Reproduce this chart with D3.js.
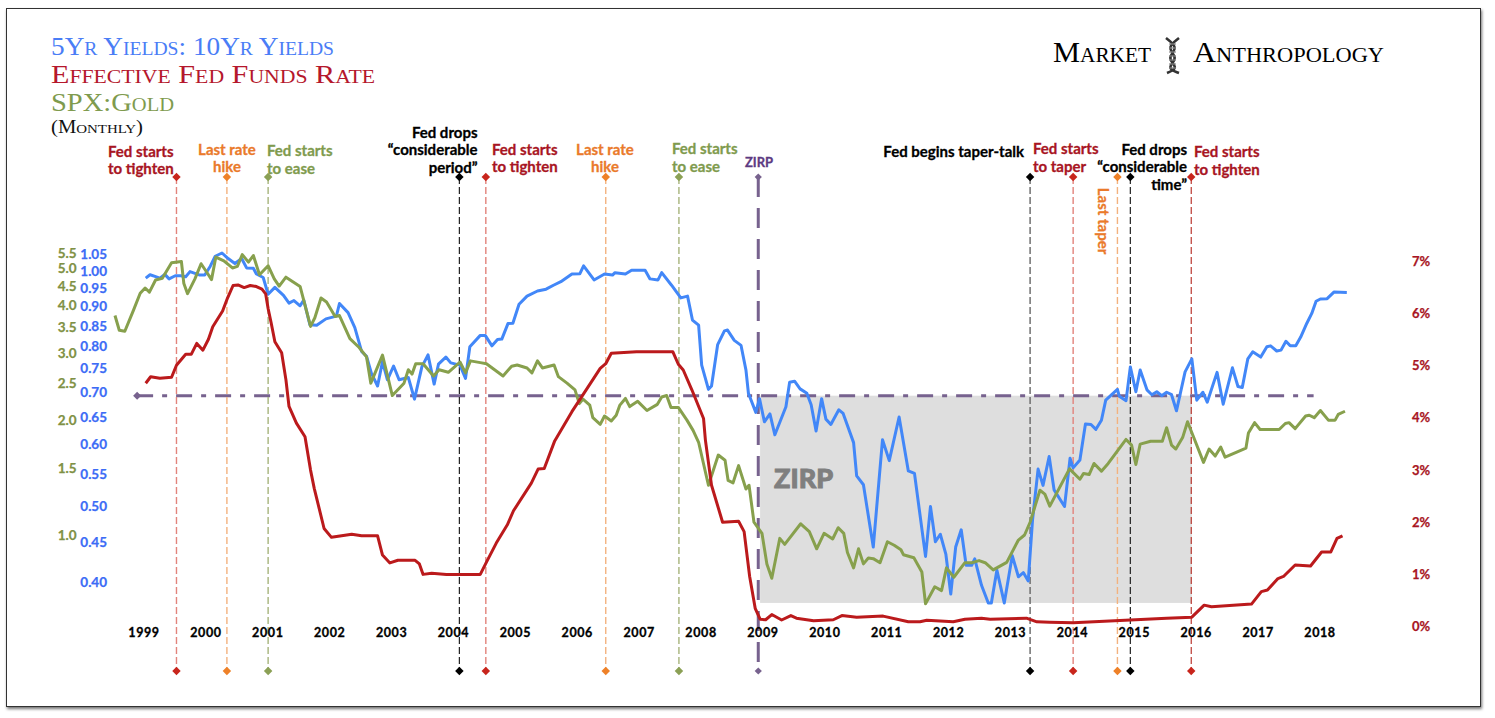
<!DOCTYPE html>
<html><head><meta charset="utf-8">
<script src="https://cdn.jsdelivr.net/npm/d3@7/dist/d3.min.js"></script>
<style>html,body{margin:0;padding:0;background:#fff}svg{display:block}</style>
</head><body><svg id="c" width="1495" height="718"></svg>
<script>
const blueYears=[1998.95,1999.02,1999.10,1999.18,1999.26,1999.33,1999.43,1999.52,1999.60,1999.67,1999.75,1999.83,1999.91,2000.0,2000.08,2000.19,2000.29,2000.40,2000.51,2000.59,2000.70,2000.75,2000.86,2000.94,2001.05,2001.19,2001.28,2001.36,2001.46,2001.52,2001.62,2001.73,2001.88,2002.05,2002.10,2002.24,2002.35,2002.46,2002.54,2002.62,2002.72,2002.80,2002.88,2002.98,2003.07,2003.22,2003.32,2003.44,2003.54,2003.64,2003.71,2003.83,2003.91,2004.06,2004.15,2004.22,2004.39,2004.47,2004.58,2004.67,2004.74,2004.84,2004.92,2005.02,2005.15,2005.32,2005.46,2005.58,2005.70,2005.88,2006.01,2006.07,2006.24,2006.41,2006.54,2006.58,2006.75,2006.85,2007.07,2007.15,2007.28,2007.34,2007.50,2007.65,2007.76,2007.84,2007.94,2007.99,2008.10,2008.15,2008.25,2008.36,2008.41,2008.52,2008.63,2008.71,2008.75,2008.87,2008.93,2009.01,2009.10,2009.18,2009.36,2009.42,2009.50,2009.59,2009.70,2009.77,2009.85,2009.94,2010.01,2010.09,2010.22,2010.29,2010.46,2010.51,2010.62,2010.78,2010.93,2011.04,2011.20,2011.35,2011.45,2011.63,2011.71,2011.79,2011.87,2011.96,2012.04,2012.12,2012.21,2012.29,2012.38,2012.43,2012.54,2012.65,2012.70,2012.79,2012.91,2013.04,2013.14,2013.22,2013.30,2013.37,2013.46,2013.54,2013.64,2013.72,2013.89,2013.98,2014.03,2014.14,2014.23,2014.32,2014.40,2014.49,2014.56,2014.63,2014.75,2014.78,2014.89,2014.96,2015.05,2015.12,2015.23,2015.31,2015.39,2015.47,2015.55,2015.63,2015.71,2015.85,2015.96,2016.04,2016.14,2016.21,2016.37,2016.47,2016.62,2016.71,2016.78,2016.87,2016.95,2017.08,2017.18,2017.24,2017.34,2017.41,2017.49,2017.56,2017.65,2017.73,2017.83,2017.91,2017.98,2018.05,2018.16,2018.27,2018.48];
const blueValues=[.975,.985,.98,.975,.986,.973,.982,.982,.979,.994,.989,.984,.984,1.01,1.04,1.05,1.033,1.018,1.033,1.005,1.004,.987,.977,.93,.949,.927,.906,.913,.899,.914,.85,.849,.865,.872,.905,.881,.843,.786,.775,.737,.71,.763,.723,.753,.723,.728,.683,.751,.778,.714,.757,.773,.76,.755,.726,.797,.824,.824,.799,.814,.815,.853,.854,.903,.925,.939,.944,.955,.965,.987,.988,1.011,.97,.987,.984,.991,.987,.998,.998,.973,.97,.991,.955,.92,.925,.862,.849,.755,.703,.71,.802,.835,.837,.812,.80,.744,.695,.657,.684,.639,.654,.615,.668,.718,.72,.704,.695,.672,.622,.684,.644,.634,.662,.655,.601,.545,.531,.442,.606,.57,.648,.553,.549,.43,.498,.449,.459,.433,.385,.442,.465,.419,.419,.427,.395,.375,.375,.413,.375,.431,.405,.41,.40,.479,.556,.53,.577,.523,.498,.574,.558,.571,.635,.634,.625,.642,.681,.689,.703,.689,.68,.751,.698,.744,.702,.692,.698,.69,.697,.692,.66,.74,.769,.681,.697,.677,.739,.673,.749,.709,.707,.769,.785,.773,.797,.799,.787,.789,.81,.799,.799,.82,.854,.879,.911,.917,.918,.936,.935];
const greenYears=[1998.45,1998.52,1998.61,1998.75,1998.86,1998.94,1999.01,1999.11,1999.22,1999.37,1999.53,1999.57,1999.63,1999.75,1999.85,1999.94,2000.02,2000.09,2000.22,2000.36,2000.44,2000.52,2000.62,2000.70,2000.80,2000.94,2001.04,2001.12,2001.23,2001.46,2001.63,2001.70,2001.80,2001.89,2002.03,2002.10,2002.27,2002.42,2002.54,2002.61,2002.80,2002.96,2003.15,2003.22,2003.28,2003.34,2003.46,2003.63,2003.72,2003.87,2004.06,2004.15,2004.23,2004.39,2004.49,2004.76,2004.90,2004.99,2005.15,2005.23,2005.32,2005.40,2005.59,2005.66,2005.80,2005.93,2006.00,2006.06,2006.17,2006.22,2006.34,2006.41,2006.52,2006.60,2006.66,2006.75,2006.82,2006.95,2007.10,2007.27,2007.34,2007.42,2007.49,2007.61,2007.75,2007.85,2007.94,2008.10,2008.26,2008.37,2008.42,2008.50,2008.59,2008.71,2008.76,2008.84,2008.97,2009.05,2009.13,2009.26,2009.34,2009.60,2009.74,2009.86,2009.98,2010.12,2010.21,2010.30,2010.36,2010.46,2010.54,2010.62,2010.70,2010.78,2010.89,2011.01,2011.12,2011.23,2011.27,2011.44,2011.57,2011.63,2011.78,2011.89,2011.97,2012.09,2012.27,2012.38,2012.50,2012.60,2012.73,2012.95,2013.14,2013.24,2013.33,2013.49,2013.57,2013.65,2013.97,2014.14,2014.20,2014.29,2014.37,2014.49,2014.60,2014.76,2014.89,2014.98,2015.05,2015.12,2015.29,2015.48,2015.55,2015.63,2015.70,2015.81,2015.89,2015.98,2016.15,2016.24,2016.34,2016.43,2016.50,2016.69,2016.84,2016.88,2016.98,2017.07,2017.38,2017.48,2017.54,2017.64,2017.81,2017.87,2017.95,2018.05,2018.18,2018.29,2018.34,2018.45];
const greenValues=[3.76,3.44,3.42,3.88,4.3,4.44,4.33,4.66,4.71,5.17,5.21,4.56,4.29,4.69,5.14,4.89,4.67,5.35,5.23,5.01,5.06,5.43,5.19,5.4,4.81,5.08,4.69,4.49,4.74,4.48,3.52,3.71,4.18,4.08,3.74,3.76,3.27,3.1,2.93,2.5,2.96,2.32,2.5,2.71,2.64,2.81,2.81,2.61,2.71,2.67,2.84,2.66,2.86,2.83,2.81,2.61,2.77,2.79,2.74,2.66,2.86,2.74,2.79,2.6,2.5,2.4,2.21,2.27,2.19,2.03,1.95,2.05,1.99,2.06,2.19,2.28,2.17,2.24,2.12,2.2,2.3,2.32,2.16,2.16,2.0,1.88,1.75,1.35,1.62,1.57,1.39,1.37,1.52,1.32,1.35,1.08,1.01,.84,.77,.98,.945,1.07,1.02,.92,1.01,.976,1.045,1.01,.9,.82,.92,.84,.87,.867,.846,.96,.94,.915,.888,.872,.8,.66,.732,.715,.82,.775,.846,.846,.857,.846,.81,.848,.97,1.0,1.08,1.31,1.28,1.19,1.49,1.4,1.45,1.44,1.54,1.47,1.54,1.67,1.78,1.72,1.53,1.73,1.76,1.76,1.91,1.72,1.68,1.8,1.98,1.82,1.55,1.68,1.61,1.70,1.6,1.65,1.69,1.85,1.97,1.89,1.89,1.96,1.97,1.9,2.05,2.06,2.03,2.12,2.0,2.0,2.07,2.11];
const redYears=[1998.95,1999.03,1999.18,1999.37,1999.45,1999.60,1999.69,1999.78,1999.88,1999.97,2000.04,2000.20,2000.28,2000.37,2000.45,2000.55,2000.65,2000.75,2000.84,2000.90,2000.94,2000.99,2001.05,2001.16,2001.23,2001.28,2001.40,2001.54,2001.63,2001.69,2001.85,2001.97,2002.30,2002.46,2002.72,2002.80,2002.92,2003.05,2003.33,2003.40,2003.46,2003.60,2003.84,2004.39,2004.48,2004.65,2004.83,2004.93,2005.22,2005.33,2005.43,2005.60,2005.88,2006.04,2006.34,2006.43,2006.52,2006.93,2007.52,2007.61,2007.69,2007.83,2008.02,2008.05,2008.15,2008.33,2008.59,2008.68,2008.77,2008.86,2008.94,2009.03,2009.13,2009.29,2009.44,2009.53,2009.81,2010.13,2010.27,2010.51,2010.94,2011.35,2011.54,2011.65,2012.08,2012.27,2012.54,2012.68,2013.27,2013.44,2013.65,2014.03,2014.96,2015.55,2015.96,2016.16,2016.28,2016.93,2017.09,2017.19,2017.36,2017.45,2017.64,2017.89,2018.07,2018.22,2018.32,2018.41];
const redValues=[4.655,4.78,4.75,4.77,5.0,5.21,5.21,5.42,5.29,5.5,5.74,6.04,6.29,6.53,6.54,6.49,6.53,6.51,6.46,6.37,6.09,5.81,5.45,5.24,4.72,4.21,3.89,3.63,2.99,2.64,1.87,1.70,1.76,1.73,1.73,1.36,1.21,1.26,1.26,1.19,.99,1.01,.99,.99,1.2,1.59,1.94,2.21,2.74,3.01,3.02,3.55,4.11,4.4,4.94,5.03,5.23,5.26,5.26,5.02,4.91,4.53,3.98,3.57,2.70,1.99,2.01,1.81,.95,.34,.13,.12,.22,.115,.2,.15,.10,.12,.2,.17,.19,.08,.08,.11,.08,.13,.15,.13,.15,.08,.07,.06,.115,.15,.17,.40,.37,.42,.66,.69,.91,.95,1.17,1.15,1.42,1.42,1.68,1.73];

const yearTicks=d3.range(1999,2019);
const blueTicks=[.40,.45,.50,.55,.60,.65,.70,.75,.80,.85,.90,.95,1.00,1.05];
const greenTicks=[1.0,1.5,2.0,2.5,3.0,3.5,4.0,4.5,5.0,5.5];
const redTicks=[0,1,2,3,4,5,6,7];

const eventYears=[1999.45,2000.27,2000.94,2004.05,2004.48,2006.43,2007.62,2008.91,2013.33,2014.03,2014.75,2014.96,2015.95];
const eventKinds=["red","orange","green","black","red","orange","green","zirp","gray","red","orange","black","darkred"];
const zirpBand={from:2008.94,to:2015.96,top:.69,bottom:.375};
const referenceValue=.69, referenceFrom=1998.81, referenceTo=2017.94;

const titleLines=["5Yr Yields: 10Yr Yields","Effective Fed Funds Rate","SPX:Gold","(Monthly)"];
const logoWords=["Market","Anthropology"];

// ---- styles and layout ----
const COL={blue:"#4287f8",red:"#bb1a1c",green:"#87a04d",purple:"#77628e"};
const kindStyle={
 red:{line:"#e2837c",dot:"#c8251c",w:1.4},orange:{line:"#f3b27f",dot:"#ee8128",w:1.4},
 green:{line:"#a0ae72",dot:"#8ba055",w:1.3},black:{line:"#222",dot:"#000",w:1.2},
 gray:{line:"#666",dot:"#000",w:1.4},darkred:{line:"#b3261e",dot:"#c8251c",w:1.1},
 zirp:{line:COL.purple,dot:COL.purple,w:3}};
const svg=d3.select("#c");
const defs=svg.append("defs");
const fl=defs.append("filter").attr("id","sh").attr("x","-2%").attr("y","-2%").attr("width","104%").attr("height","104%");
fl.append("feDropShadow").attr("dx",1).attr("dy",2).attr("stdDeviation",1.6).attr("flood-color","#000").attr("flood-opacity",.55);
svg.append("rect").attr("x",6.5).attr("y",8.5).attr("width",1474).attr("height",698)
 .attr("fill","#fff").attr("stroke","#333").attr("stroke-width",1).attr("filter","url(#sh)");

const x=d3.scaleLinear([1999,2018],[148.8,1317.3]);
const xLabel=d3.scalePoint(yearTicks,[144,1320]);
const yBlue=d3.scaleLog([.4,1.05],[581,253]);
const yGreen=d3.scaleLog([1,5.5],[535,252.5]);
const yRed=d3.scaleLinear([0,7],[626,261]);

const SANS="Lato,'Open Sans',sans-serif", SERIF="'Liberation Serif',serif";

// band
svg.append("rect").attr("x",x(zirpBand.from)).attr("width",x(zirpBand.to)-x(zirpBand.from))
 .attr("y",yBlue(zirpBand.top)).attr("height",yBlue(zirpBand.bottom)-yBlue(zirpBand.top)).attr("fill","#dedede");
svg.append("text").attr("x",x(zirpBand.from)+14).attr("y",488).text("ZIRP")
 .attr("font-family",SANS).attr("font-weight",900).attr("font-size",27).attr("fill","#7f7f7f")
 .attr("stroke","#7f7f7f").attr("stroke-width",.9);

// reference dash-dot line
svg.append("line").attr("x1",x(referenceFrom)).attr("x2",x(referenceTo))
 .attr("y1",yBlue(referenceValue)).attr("y2",yBlue(referenceValue))
 .attr("stroke",COL.purple).attr("stroke-width",3).attr("stroke-dasharray","16 9 5 9");
svg.append("path").attr("d",d3.symbol(d3.symbolSquare,32)())
 .attr("transform",`translate(${x(referenceFrom)},${yBlue(referenceValue)}) rotate(45)`).attr("fill",COL.purple);

// events
const TOP=177,BOT=671;
eventYears.forEach((yr,i)=>{
 const s=kindStyle[eventKinds[i]],z=eventKinds[i]==="zirp";
 svg.append("line").attr("x1",x(yr)).attr("x2",x(yr)).attr("y1",TOP).attr("y2",BOT)
  .attr("stroke",s.line).attr("stroke-width",s.w).attr("stroke-dasharray",z?"20 11":"7 3");
 [TOP,BOT].forEach(py=>svg.append("path").attr("d",d3.symbol(d3.symbolSquare,z?26:36)())
  .attr("transform",`translate(${x(yr)},${py}) rotate(45)`).attr("fill",s.dot));
});

// series
function series(years,vals,yS,col){
 const pts=d3.zip(years,vals);
 svg.append("path").attr("d",d3.line().x(d=>x(d[0])).y(d=>yS(d[1]))(pts))
  .attr("fill","none").attr("stroke",col).attr("stroke-width",3)
  .attr("stroke-linejoin","round").attr("stroke-linecap","butt");
}
series(blueYears,blueValues,yBlue,COL.blue);
series(greenYears,greenValues,yGreen,COL.green);
series(redYears,redValues,yRed,COL.red);

// axes labels
const tick=(v,px,py,anchor,col,size=13,bold=0.25)=>svg.append("text").attr("x",px).attr("y",py).text(v)
 .attr("text-anchor",anchor).attr("dominant-baseline","central").attr("font-family",SANS)
 .attr("font-weight",700).attr("font-size",size).attr("fill",col).attr("stroke",col).attr("stroke-width",bold);
blueTicks.forEach(v=>tick(d3.format(".2f")(v),107,yBlue(v)+1,"end","#3c6cf6",13.5));
greenTicks.forEach(v=>tick(d3.format(".1f")(v),76.5,yGreen(v),"end","#7f9145",13.5));
redTicks.forEach(v=>tick(v+"%",1421,yRed(v),"middle","#a81523",13));
yearTicks.forEach(v=>tick(v,xLabel(v),632,"middle","#000",12.5,.3).attr("letter-spacing",.6));

// titles
const title=(t,px,base,size,col,len)=>svg.append("text").attr("x",px).attr("y",base).text(t)
 .attr("font-family",SERIF).attr("font-variant","small-caps").attr("font-size",size).attr("fill",col)
 .attr("textLength",len).attr("lengthAdjust","spacingAndGlyphs");
title(titleLines[0],51,55,25,"#4a7df6",283);
title(titleLines[1],51,83,25,"#b5172c",324);
title(titleLines[2],51,111,25,"#7f9b4e",123);
title(titleLines[3],51,133,18,"#111",92);
title(logoWords[0],1053,62,30,"#000",98);
title(logoWords[1],1193,62,30,"#000",191);

// logo helix
const helixA=[[1166,38],[1179,48],[1166,58],[1179,68],[1167,73]],helixB=[[1179,38],[1166,48],[1179,58],[1166,68],[1179,73]];
[helixA,helixB].forEach(h=>svg.append("path").attr("d",d3.line().curve(d3.curveBasis)(h))
 .attr("fill","none").attr("stroke","#333").attr("stroke-width",2.6));
[44,48,52,56,60,64,68].forEach(py=>svg.append("line").attr("x1",1169).attr("x2",1176).attr("y1",py).attr("y2",py).attr("stroke","#888").attr("stroke-width",1.2));

// annotations
const ANN=[
 {l:["Fed starts","to tighten"],x:108,y:[151,168],a:"start",c:"#a81523"},
 {l:["Last rate","hike"],x:227,y:[149,166],a:"middle",c:"#ea7a2b"},
 {l:["Fed starts","to ease"],x:267,y:[150,168],a:"start",c:"#7f9b4e"},
 {l:["Fed drops","“considerable","period”"],x:477.5,y:[132,149,167],a:"end",c:"#000"},
 {l:["Fed starts","to tighten"],x:492,y:[149,166],a:"start",c:"#a81523"},
 {l:["Last rate","hike"],x:605,y:[149,166],a:"middle",c:"#ea7a2b"},
 {l:["Fed starts","to ease"],x:672,y:[148,166],a:"start",c:"#7f9b4e"},
 {l:["Fed begins taper-talk"],x:1024,y:[151],a:"end",c:"#000"},
 {l:["Fed starts","to taper"],x:1033,y:[148,166],a:"start",c:"#a81523"},
 {l:["Fed drops","“considerable","time”"],x:1187,y:[149,166,184],a:"end",c:"#000"},
 {l:["Fed starts","to tighten"],x:1194,y:[151,169],a:"start",c:"#a81523"}];
ANN.forEach(d=>d.l.forEach((t,i)=>tick(t,d.x,d.y[i],d.a,d.c,15,.3)));
tick("ZIRP",759,162,"middle","#5d3a82",13,.3);
tick("Last taper",0,0,"middle","#ea7a2b",15,.3).attr("transform","translate(1104,221) rotate(90)");
</script></body></html>
